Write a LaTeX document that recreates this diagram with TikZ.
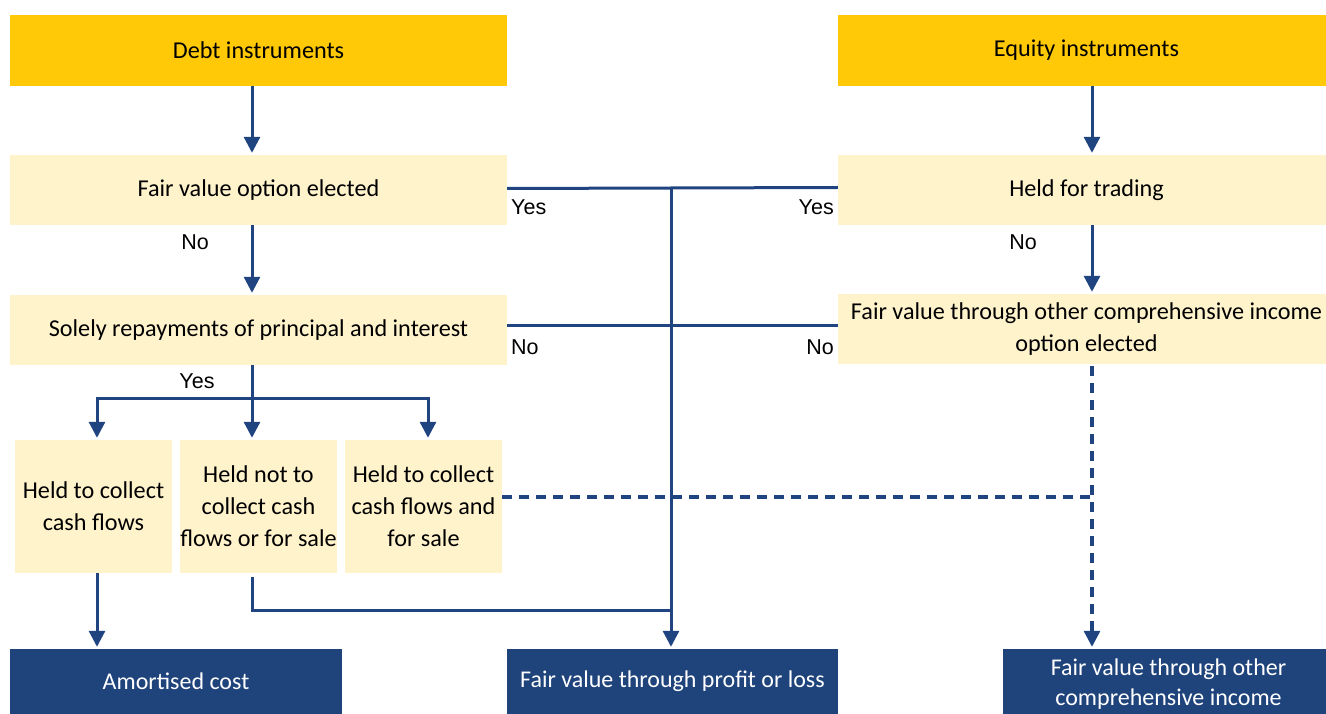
\documentclass[tikz,border=0pt]{standalone}
\usepackage{fontspec}
\setmainfont{Carlito}
\newfontfamily\labelfont{Liberation Sans}
\usetikzlibrary{arrows.meta}

\definecolor{navy}{HTML}{1F4480}
\definecolor{deepblue}{HTML}{1F437B}
\definecolor{gold}{HTML}{FFC907}
\definecolor{cream}{HTML}{FFF3CC}

\tikzset{
  headbox/.style={rectangle, fill=gold, inner sep=0pt, align=center,
    font=\fontsize{24.2}{32}\selectfont},
  testbox/.style={rectangle, fill=cream, inner sep=0pt, align=center,
    font=\fontsize{24.2}{32}\selectfont},
  resultbox/.style={rectangle, fill=deepblue, text=white, inner sep=0pt, align=center,
    font=\fontsize{24}{30}\selectfont},
  flow/.style={draw=navy, line width=3pt},
  tip/.style={-{Triangle[width=16pt,length=16pt]}},
  arr/.style={flow, tip, shorten >=2pt},
  dashflow/.style={flow, line width=3.2pt, dash pattern=on 10pt off 7pt},
  answer/.style={inner sep=0pt, font=\labelfont\fontsize{21.5}{24}\selectfont},
}

\begin{document}
\begin{tikzpicture}[x=1pt, y=-1pt]
\useasboundingbox (0,0) rectangle (1326,714);

% column positions of the vertical connectors
\coordinate (colA) at (97,0);
\coordinate (colL) at (252,0);
\coordinate (colC) at (428,0);
\coordinate (colM) at (671,0);
\coordinate (colR) at (1092,0);

% top row
\node[headbox, minimum width=497pt, minimum height=71pt] (debt) at (258.5,50.5) {Debt instruments};
\node[headbox, minimum width=497pt, minimum height=71pt] (equity) at (1086.5,50.5) {Equity instruments};

% tests
\node[testbox, minimum width=497pt, minimum height=70pt] (fvo) at (258.5,190) {Fair value option elected};
\node[testbox, minimum width=497pt, minimum height=70pt] (hft) at (1086.5,190) {Held for trading};
\node[testbox, minimum width=497pt, minimum height=70pt] (sppi) at (258.5,330) {Solely repayments of principal and interest};
\node[testbox, minimum width=497pt, minimum height=70pt] (ocio) at (1086.5,329) {Fair value through other comprehensive income\\option elected};

% business models
\node[testbox, minimum width=157pt, minimum height=133pt] (htc) at (93.5,506.5) {Held to collect\\cash flows};
\node[testbox, minimum width=157pt, minimum height=133pt] (hnc) at (258.5,506.5) {Held not to\\collect cash\\flows or for sale};
\node[testbox, minimum width=157pt, minimum height=133pt] (htcs) at (423.5,506.5) {Held to collect\\cash flows and\\for sale};

% outcomes
\node[resultbox, minimum width=332pt, minimum height=65pt] (ac) at (176,681.5) {Amortised cost};
\node[resultbox, minimum width=331pt, minimum height=65pt] (fvpl) at (672.5,681.5) {Fair value through profit or loss};
\node[resultbox, minimum width=331pt, minimum height=71pt] (fvoci) at (1168.5,684.5) {Fair value through other\\comprehensive income};

% debt column
\draw[arr] (debt.south -| colL) -- (fvo.north -| colL);
\draw[arr] (fvo.south -| colL) -- (sppi.north -| colL);
\coordinate (split) at (252,398);
\draw[flow] (sppi.south -| colL) -- (split);
\draw[arr] (split) -- (hnc.north -| colL);
\draw[arr] (split) -| (htc.north -| colA);
\draw[arr] (split) -| (htcs.north -| colC);
\draw[arr] (htc.south -| colA) -- (ac.north -| colA);

% equity column
\draw[arr] (equity.south -| colR) -- (hft.north -| colR);
\draw[arr] (hft.south -| colR) -- (ocio.north -| colR);

% routes to fair value through profit or loss
\coordinate (yesjoin) at (671,188);
\draw[flow] ([yshift=1.5pt]fvo.east) -- (yesjoin) -- ([yshift=2.5pt]hft.west);
\draw[flow] ([yshift=5pt]sppi.east) -- ([yshift=4pt]ocio.west);
\draw[arr] (yesjoin) -- (fvpl.north -| colM);
\coordinate (hncturn) at (252,610);
\draw[flow] ([yshift=-4pt]hnc.south -| colL) -- (hncturn) -- (hncturn -| colM);

% routes to fair value through other comprehensive income
\coordinate (dashjoin) at (1092,497);
\draw[dashflow] (htcs.east |- dashjoin) -- (dashjoin);
\draw[dashflow, tip, shorten >=2pt] ([yshift=-2pt]ocio.south -| colR) -- (fvoci.north -| colR);

% answers
\node[answer] (noL) at (195,242) {No};
\node[answer] (noR) at (1023,242) {No};
\node[answer] (yesS) at (197,381) {Yes};
\node[answer, anchor=west] (yes1) at (511,207) {Yes};
\node[answer, anchor=east] (yes2) at (834,207) {Yes};
\node[answer, anchor=west] (no1) at (511,347) {No};
\node[answer, anchor=east] (no2) at (834,347) {No};
\end{tikzpicture}
\end{document}
